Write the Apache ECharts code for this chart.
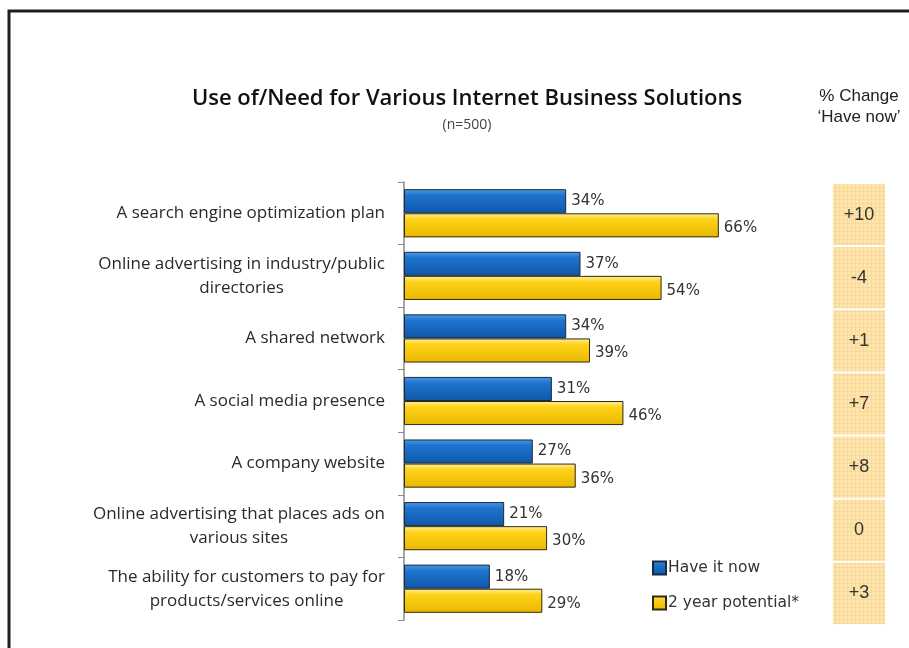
<!DOCTYPE html>
<html>
<head>
<meta charset="utf-8">
<script src="https://cdn.jsdelivr.net/npm/echarts@6/dist/echarts.min.js"></script>
<style>
  html, body { margin: 0; padding: 0; background: #fff; }
  #chart { width: 909px; height: 648px; }
</style>
</head>
<body>
<div id="chart"></div>
<script>
// Survey categories (top to bottom)
const categories = [
  'A search engine optimization plan',
  'Online advertising in industry/public\ndirectories',
  'A shared network',
  'A social media presence',
  'A company website',
  'Online advertising that places ads on\nvarious sites',
  'The ability for customers to pay for\nproducts/services online'
];
// Share of respondents (%)
const haveNow = [34, 37, 34, 31, 27, 21, 18];
const twoYearPotential = [66, 54, 39, 46, 36, 30, 29];
// % change in 'Have now'
const changeHaveNow = [10, -4, 1, 7, 8, 0, 3];

const seriesNames = ['Have it now', '2 year potential*'];

// Graph-paper fill for the change column
function paperPattern() {
  const c = document.createElement('canvas');
  c.width = 4; c.height = 4;
  const g = c.getContext('2d');
  g.fillStyle = '#fde5ad';
  g.fillRect(0, 0, 4, 4);
  g.fillStyle = '#f8d999';
  g.fillRect(3, 0, 1, 4);
  g.fillRect(0, 3, 4, 1);
  return c;
}

const blueFill = new echarts.graphic.LinearGradient(0, 0, 0, 1, [
  { offset: 0, color: '#4b9be8' },
  { offset: 0.25, color: '#1f74cf' },
  { offset: 1, color: '#0f57a8' }
]);
const yellowFill = new echarts.graphic.LinearGradient(0, 0, 0, 1, [
  { offset: 0, color: '#fff0a0' },
  { offset: 0.25, color: '#ffd21a' },
  { offset: 1, color: '#e9b800' }
]);

const valueLabel = {
  show: true,
  position: 'right',
  distance: 5,
  formatter: p => p.value + '%',
  fontFamily: 'DejaVu Sans',
  fontSize: 15,
  color: '#333'
};

const chart = echarts.init(document.getElementById('chart'), null, { renderer: 'canvas' });

chart.setOption({
  backgroundColor: '#fff',
  animation: false,
  title: [
    {
      text: 'Use of/Need for Various Internet Business Solutions',
      subtext: '(n=500)',
      left: 462,
      top: 83,
      textAlign: 'center',
      itemGap: 8,
      textStyle: { fontFamily: 'Open Sans', fontWeight: 600, fontSize: 22, color: '#111' },
      subtextStyle: { fontFamily: 'Open Sans', fontSize: 14, color: '#444' }
    },
    {
      text: '% Change\n\u2018Have now\u2019',
      left: 854,
      top: 81,
      textAlign: 'center',
      textStyle: { fontFamily: 'Liberation Sans', fontWeight: 'normal', fontSize: 17, lineHeight: 21, color: '#222' }
    }
  ],
  legend: {
    orient: 'vertical',
    left: 647,
    top: 555,
    itemGap: 19,
    itemWidth: 13,
    itemHeight: 13,
    icon: 'rect',
    data: seriesNames,
    textStyle: { fontFamily: 'DejaVu Sans', fontSize: 15.5, color: '#333', padding: [0, 0, 0, -3] }
  },
  grid: [
    { left: 404, width: 477, top: 182, height: 438 },
    { left: 832, width: 54, top: 183, height: 442 }
  ],
  xAxis: [
    { gridIndex: 0, type: 'value', min: 0, max: 100, show: false },
    { gridIndex: 1, type: 'value', min: 0, max: 1, show: false }
  ],
  yAxis: [
    {
      gridIndex: 0,
      type: 'category',
      inverse: true,
      data: categories,
      axisLine: { show: true, lineStyle: { color: '#8a8a8a', width: 1.5 } },
      axisTick: { show: true, length: 6, lineStyle: { color: '#8a8a8a' } },
      axisLabel: {
        margin: 19,
        formatter: v => v.split('\n').map(s => '{c|' + s + '}').join('\n'),
        rich: {
          c: { align: 'center', fontFamily: 'Open Sans', fontSize: 17, lineHeight: 24, color: '#2a2a2a' }
        }
      }
    },
    {
      gridIndex: 1,
      type: 'category',
      inverse: true,
      data: categories,
      show: false
    }
  ],
  series: [
    {
      name: seriesNames[0],
      type: 'bar',
      xAxisIndex: 0, yAxisIndex: 0,
      data: haveNow,
      barGap: '0%',
      barCategoryGap: '23%',
      itemStyle: { color: blueFill, borderColor: '#1b2a3a', borderWidth: 1 },
      label: valueLabel
    },
    {
      name: seriesNames[1],
      type: 'bar',
      xAxisIndex: 0, yAxisIndex: 0,
      data: twoYearPotential,
      barGap: '0%',
      barCategoryGap: '23%',
      itemStyle: { color: yellowFill, borderColor: '#2e2a10', borderWidth: 1 },
      label: Object.assign({}, valueLabel, { offset: [0, 3] })
    },
    {
      name: 'change',
      type: 'bar',
      xAxisIndex: 1, yAxisIndex: 1,
      data: changeHaveNow.map(v => ({ value: 1, change: v })),
      barWidth: '100%',
      silent: true,
      itemStyle: {
        color: { image: paperPattern(), repeat: 'repeat' },
        borderColor: '#ffffff',
        borderWidth: 1
      },
      label: {
        show: true,
        position: 'inside',
        formatter: p => {
          const v = changeHaveNow[p.dataIndex];
          return v > 0 ? '+' + v : String(v);
        },
        fontFamily: 'Liberation Sans',
        fontSize: 18,
        color: '#333'
      }
    }
  ],
  graphic: [
    {
      type: 'rect',
      shape: { x: 9, y: 11, width: 1000, height: 1000 },
      style: { fill: null, stroke: '#1e1e1e', lineWidth: 3 },
      silent: true
    }
  ]
});
</script>
</body>
</html>
